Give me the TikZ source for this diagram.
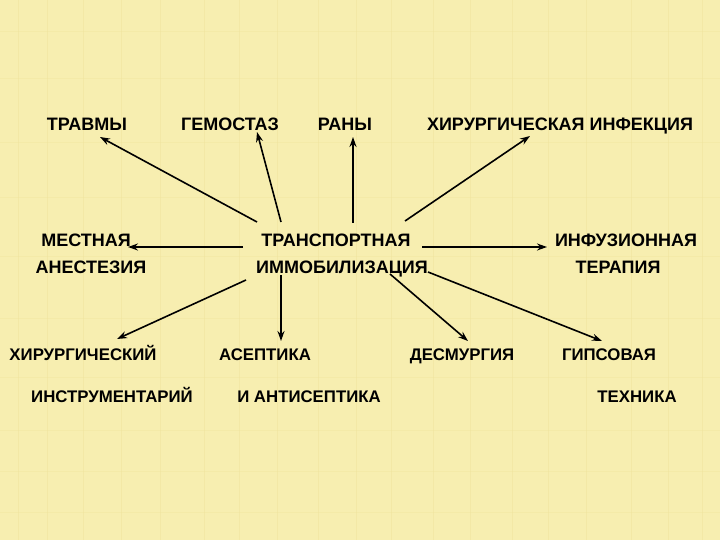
\documentclass[tikz,border=0pt]{standalone}
\usepackage{fontspec}
\setmainfont{Liberation Sans}
\usetikzlibrary{arrows.meta,calc}
\definecolor{parch}{RGB}{247,238,176}
\definecolor{parchline}{RGB}{240,228,158}
\begin{document}
\begin{tikzpicture}[x=1pt,y=-1pt,
  lbl/.style={inner sep=0pt,text height=12.5pt,text depth=0pt,font=\fontsize{18}{21}\selectfont\bfseries},
  lbls/.style={inner sep=0pt,text height=12pt,text depth=0pt,font=\fontsize{16.8}{20}\selectfont\bfseries},
  arr/.style={line width=1.6pt,-{Stealth[length=10pt,width=7pt]}}]
\fill[parch] (0,0) rectangle (720,540);
\useasboundingbox (0,0) rectangle (720,540);
\foreach \xx in {18,47,83,121,160,204,239,277,318,356,391,433,470,512,548,586,631,668,702}
  \draw[parchline,line width=0.8pt,opacity=0.5] (\xx,0) -- (\xx,540);
\foreach \yy in {31,78,142,197,256,318,377,430,471,512}
  \draw[parchline,line width=0.8pt,opacity=0.4] (0,\yy) -- (720,\yy);
% top row
\node[lbl] (travmy) at (87,124) {ТРАВМЫ};
\node[lbl] (gemo) at (230,124) {ГЕМОСТАЗ};
\node[lbl] (rany) at (345,124) {РАНЫ};
\node[lbl] (hirinf) at (560,124) {ХИРУРГИЧЕСКАЯ ИНФЕКЦИЯ};
% middle
\node[lbl] (mest) at (86,240) {МЕСТНАЯ};
\node[lbl] (anest) at (91,267) {АНЕСТЕЗИЯ};
\node[lbl] (trans) at (336,240) {ТРАНСПОРТНАЯ};
\node[lbl] (immob) at (342,267) {ИММОБИЛИЗАЦИЯ};
\node[lbl] (infuz) at (626,240) {ИНФУЗИОННАЯ};
\node[lbl] (terap) at (618,267) {ТЕРАПИЯ};
% bottom
\node[lbls] (hirurg) at (83,354) {ХИРУРГИЧЕСКИЙ};
\node[lbls] (instr) at (112,396) {ИНСТРУМЕНТАРИЙ};
\node[lbls] (asep) at (265,354) {АСЕПТИКА};
\node[lbls] (antis) at (309,396) {И АНТИСЕПТИКА};
\node[lbls] (desm) at (462,354) {ДЕСМУРГИЯ};
\node[lbls] (gips) at (609,354) {ГИПСОВАЯ};
\node[lbls] (tehn) at (637,396) {ТЕХНИКА};
% arrows
\draw[arr] ($(trans.center)+(-79,-18)$) -- ($(travmy.center)+(13,13)$);
\draw[arr] ($(trans.center)+(-55,-18)$) -- ($(gemo.center)+(27,8)$);
\draw[arr] ($(trans.center)+(17,-17)$) -- ($(rany.center)+(8,13)$);
\draw[arr] ($(trans.center)+(69,-19)$) -- ($(hirinf.center)+(-30,12)$);
\draw[arr] ($(trans.center)+(-93,7)$) -- ($(mest.center)+(42,7)$);
\draw[arr] ($(trans.center)+(86,7)$) -- ($(infuz.center)+(-79,7)$);
\draw[arr] ($(immob.center)+(-96,13)$) -- ($(hirurg.center)+(34,-15)$);
\draw[arr] ($(immob.center)+(-61,8)$) -- ($(asep.center)+(16,-13)$);
\draw[arr] ($(immob.center)+(48,7)$) -- ($(desm.center)+(6,-13)$);
\draw[arr] ($(immob.center)+(86,5)$) -- ($(gips.center)+(-7,-13)$);
\end{tikzpicture}
\end{document}
